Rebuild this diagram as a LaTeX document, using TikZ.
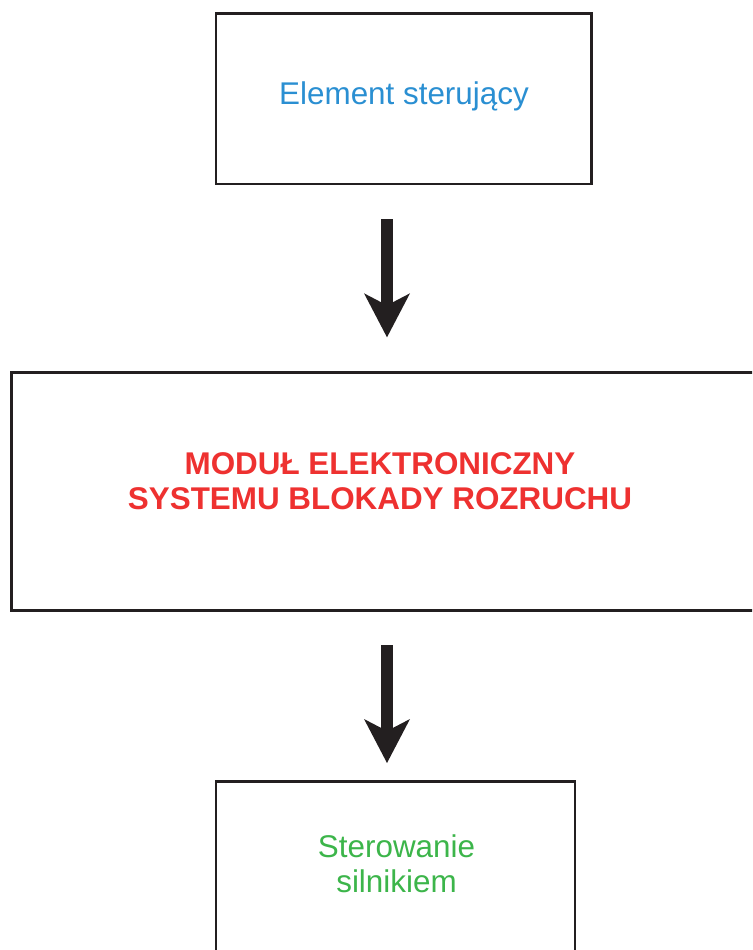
\documentclass[tikz,border=0pt]{standalone}
\usepackage{fontspec}
\setmainfont{Liberation Sans}
\usetikzlibrary{arrows.meta}

\definecolor{frame}{HTML}{231F20}
\definecolor{inblue}{HTML}{2A8FD2}
\definecolor{modred}{HTML}{EE3130}
\definecolor{outgreen}{HTML}{3CB54A}

\tikzset{
  blockbox/.style={draw=frame, line width=2.6pt, fill=white, inner sep=0pt,
    outer sep=0pt, anchor=center},
  label/.style={inner sep=0pt, font=\fontsize{31.4}{35}\selectfont, align=center},
  flow/.style={draw=frame, line width=11.5pt,
    -{Stealth[length=44pt, width=46pt, inset=12pt, line width=0pt]}},
}

\begin{document}
\begin{tikzpicture}[x=1pt, y=-1pt]
  \useasboundingbox (0,0) rectangle (752,950);
  \clip (0,0) rectangle (752,950);

  % blocks
  \node[blockbox, minimum width=375.7pt, minimum height=170.7pt]
    (ctrl) at (403.85,98.65) {};
  \node[blockbox, minimum width=748.3pt, minimum height=238.4pt]
    (module) at (385.85,491.5) {};
  \node[blockbox, minimum width=359pt, minimum height=178.3pt]
    (engine) at (395.5,870.85) {};

  % texts
  \node[label, text=inblue, anchor=base] (ctrltxt) at (404,104) {Element sterujący};
  \node[label, text=modred, font=\fontsize{31.4}{35}\selectfont\bfseries]
    (moduletxt) at (380,481.4) {MODUŁ ELEKTRONICZNY\\SYSTEMU BLOKADY ROZRUCHU};
  \node[label, text=outgreen] (enginetxt) at (396.5,863.5) {Sterowanie\\silnikiem};

  % arrows
  \coordinate (axis) at (387,0);
  \draw[flow, shorten <=35pt, shorten >=35pt]
    (ctrl.south -| axis) -- (module.north -| axis);
  \draw[flow, shorten <=34.3pt, shorten >=18.7pt]
    (module.south -| axis) -- (engine.north -| axis);
\end{tikzpicture}
\end{document}
